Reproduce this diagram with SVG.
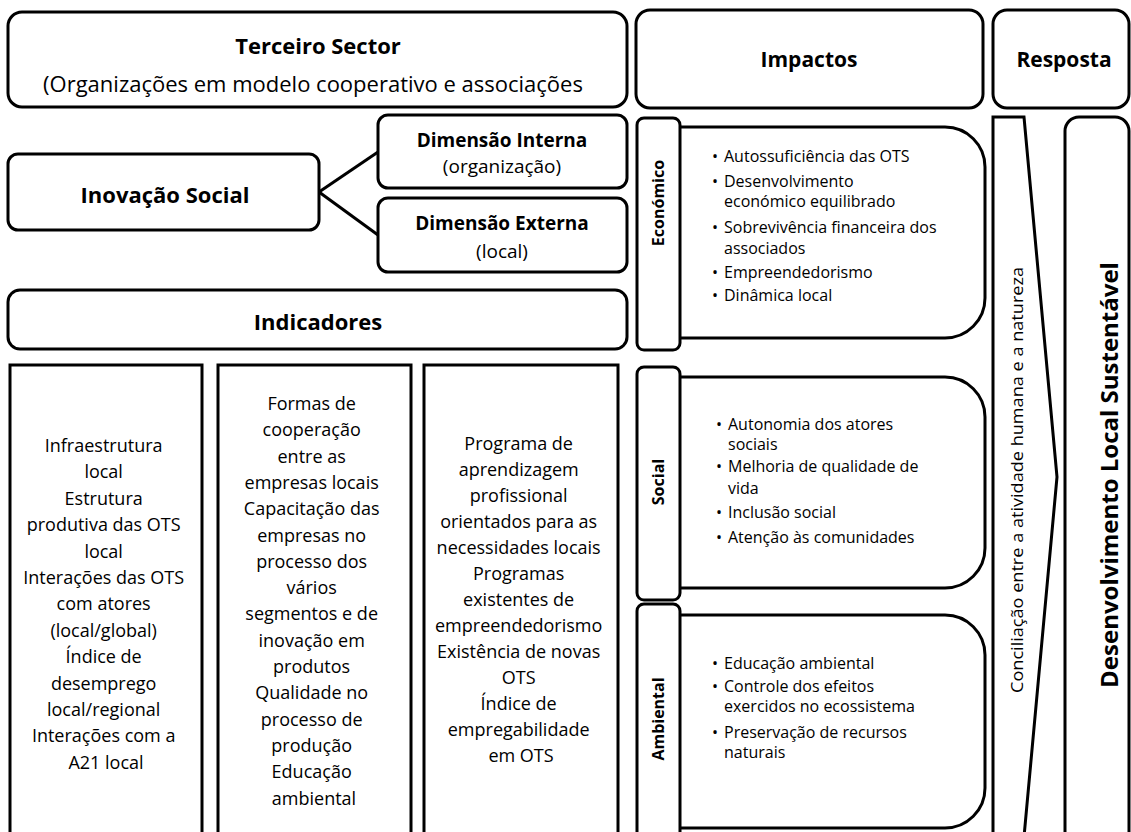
<svg xmlns="http://www.w3.org/2000/svg" width="1131" height="832" viewBox="0 0 1131 832">
  <style>
    .box { fill: #fff; stroke: #000; stroke-width: 3; }
    .col { fill: #fff; stroke: #000; stroke-width: 3; }
    .line { fill: none; stroke: #000; stroke-width: 3; }
    text { font-family: "Open Sans", "DejaVu Sans", sans-serif; fill: #000; }
    .h1 { font-size: 22px; font-weight: bold; text-anchor: middle; }
    .h2 { font-size: 21px; font-weight: bold; text-anchor: middle; }
    .sub { font-size: 22px; text-anchor: middle; }
    .dim { font-size: 19px; font-weight: bold; text-anchor: middle; }
    .dimsub { font-size: 19px; text-anchor: middle; }
    .ind { font-size: 18px; text-anchor: middle; }
    .lab { font-size: 16px; font-weight: bold; text-anchor: middle; }
    .bul { font-size: 16px; }
    .conc { font-size: 17px; text-anchor: middle; }
    .dls { font-size: 24px; font-weight: bold; text-anchor: middle; }
  </style>

  <rect width="1131" height="832" fill="#fff"/>

  <!-- header row -->
  <g id="terceiro-sector">
    <rect class="box" x="8" y="12" width="619" height="95" rx="14"/>
    <text class="h1" x="318" y="54">Terceiro Sector</text>
    <text class="sub" x="313" y="92">(Organizações em modelo cooperativo e associações</text>
  </g>
  <g id="impactos">
    <rect class="box" x="636" y="10" width="347" height="98" rx="14"/>
    <text class="h2" x="809" y="67">Impactos</text>
  </g>
  <g id="resposta">
    <rect class="box" x="993" y="10" width="136" height="98" rx="14"/>
    <text class="h2" x="1064" y="67">Resposta</text>
  </g>

  <!-- social innovation and its two dimensions -->
  <g id="connectors">
    <line class="line" x1="319" y1="192" x2="378" y2="152"/>
    <line class="line" x1="319" y1="192" x2="378" y2="235"/>
  </g>
  <g id="inovacao-social">
    <rect class="box" x="8" y="154" width="311" height="76" rx="10"/>
    <text class="h1" x="165" y="203">Inovação Social</text>
  </g>
  <g id="dimensao-interna">
    <rect class="box" x="378" y="115" width="249" height="73" rx="10"/>
    <text class="dim" x="502" y="147">Dimensão Interna</text>
    <text class="dimsub" x="502" y="173">(organização)</text>
  </g>
  <g id="dimensao-externa">
    <rect class="box" x="378" y="198" width="249" height="74" rx="10"/>
    <text class="dim" x="502" y="230">Dimensão Externa</text>
    <text class="dimsub" x="502" y="258">(local)</text>
  </g>

  <g id="indicadores">
    <rect class="box" x="8" y="290" width="619" height="59" rx="12"/>
    <text class="h1" x="318" y="330">Indicadores</text>
  </g>

  <!-- indicator columns -->
  <g id="indicadores-col1">
    <rect class="col" x="10" y="365" width="192" height="490"/>
    <text class="ind" x="106">
      <tspan x="106" y="452">Infraestrutura</tspan>
      <tspan x="106" y="478.4">local</tspan>
      <tspan x="106" y="504.8">Estrutura</tspan>
      <tspan x="106" y="531.2">produtiva das OTS</tspan>
      <tspan x="106" y="557.6">local</tspan>
      <tspan x="106" y="584">Interações das OTS</tspan>
      <tspan x="106" y="610.4">com atores</tspan>
      <tspan x="106" y="636.8">(local/global)</tspan>
      <tspan x="106" y="663.2">Índice de</tspan>
      <tspan x="106" y="689.6">desemprego</tspan>
      <tspan x="106" y="716">local/regional</tspan>
      <tspan x="106" y="742.4">Interações com a</tspan>
      <tspan x="106" y="768.8">A21 local</tspan>
    </text>
  </g>
  <g id="indicadores-col2">
    <rect class="col" x="218" y="365" width="193" height="490"/>
    <text class="ind" x="314">
      <tspan x="314" y="410">Formas de</tspan>
      <tspan x="314" y="436.3">cooperação</tspan>
      <tspan x="314" y="462.6">entre as</tspan>
      <tspan x="314" y="488.9">empresas locais</tspan>
      <tspan x="314" y="515.2">Capacitação das</tspan>
      <tspan x="314" y="541.5">empresas no</tspan>
      <tspan x="314" y="567.8">processo dos</tspan>
      <tspan x="314" y="594.1">vários</tspan>
      <tspan x="314" y="620.4">segmentos e de</tspan>
      <tspan x="314" y="646.7">inovação em</tspan>
      <tspan x="314" y="673">produtos</tspan>
      <tspan x="314" y="699.3">Qualidade no</tspan>
      <tspan x="314" y="725.6">processo de</tspan>
      <tspan x="314" y="751.9">produção</tspan>
      <tspan x="314" y="778.2">Educação</tspan>
      <tspan x="314" y="804.5">ambiental</tspan>
    </text>
  </g>
  <g id="indicadores-col3">
    <rect class="col" x="424" y="365" width="194" height="490"/>
    <text class="ind" x="521">
      <tspan x="521" y="450">Programa de</tspan>
      <tspan x="521" y="476">aprendizagem</tspan>
      <tspan x="521" y="502">profissional</tspan>
      <tspan x="521" y="528">orientados para as</tspan>
      <tspan x="521" y="554">necessidades locais</tspan>
      <tspan x="521" y="580">Programas</tspan>
      <tspan x="521" y="606">existentes de</tspan>
      <tspan x="521" y="632">empreendedorismo</tspan>
      <tspan x="521" y="658">Existência de novas</tspan>
      <tspan x="521" y="684">OTS</tspan>
      <tspan x="521" y="710">Índice de</tspan>
      <tspan x="521" y="736">empregabilidade</tspan>
      <tspan x="521" y="762">em OTS</tspan>
    </text>
  </g>

  <!-- impact panels -->
  <g id="economico">
    <path class="box" d="M678 127 H945 A40 40 0 0 1 985 167 V298 A40 40 0 0 1 945 338 H678 Z"/>
    <rect class="box" x="637" y="118" width="43" height="232" rx="7"/>
    <text class="lab" transform="translate(664 203) rotate(-90)">Económico</text>
    <text class="bul">
      <tspan x="712" y="162">•</tspan><tspan x="724" y="162">Autossuficiência das OTS</tspan>
      <tspan x="712" y="187">•</tspan><tspan x="724" y="187">Desenvolvimento</tspan>
      <tspan x="724" y="207">económico equilibrado</tspan>
      <tspan x="712" y="233">•</tspan><tspan x="724" y="233">Sobrevivência financeira dos</tspan>
      <tspan x="724" y="254">associados</tspan>
      <tspan x="712" y="278">•</tspan><tspan x="724" y="278">Empreendedorismo</tspan>
      <tspan x="712" y="301">•</tspan><tspan x="724" y="301">Dinâmica local</tspan>
    </text>
  </g>
  <g id="social">
    <path class="box" d="M678 377 H945 A40 40 0 0 1 985 417 V548 A40 40 0 0 1 945 588 H678 Z"/>
    <rect class="box" x="637" y="367" width="43" height="233" rx="7"/>
    <text class="lab" transform="translate(664 482) rotate(-90)">Social</text>
    <text class="bul">
      <tspan x="716" y="430">•</tspan><tspan x="728" y="430">Autonomia dos atores</tspan>
      <tspan x="728" y="450">sociais</tspan>
      <tspan x="716" y="472">•</tspan><tspan x="728" y="472">Melhoria de qualidade de</tspan>
      <tspan x="728" y="494">vida</tspan>
      <tspan x="716" y="518">•</tspan><tspan x="728" y="518">Inclusão social</tspan>
      <tspan x="716" y="543">•</tspan><tspan x="728" y="543">Atenção às comunidades</tspan>
    </text>
  </g>
  <g id="ambiental">
    <path class="box" d="M678 615 H945 A40 40 0 0 1 985 655 V788 A40 40 0 0 1 945 828 H678 Z"/>
    <rect class="box" x="637" y="604" width="43" height="245" rx="7"/>
    <text class="lab" transform="translate(664 719) rotate(-90)">Ambiental</text>
    <text class="bul">
      <tspan x="712" y="669">•</tspan><tspan x="724" y="669">Educação ambiental</tspan>
      <tspan x="712" y="692">•</tspan><tspan x="724" y="692">Controle dos efeitos</tspan>
      <tspan x="724" y="712">exercidos no ecossistema</tspan>
      <tspan x="712" y="738">•</tspan><tspan x="724" y="738">Preservação de recursos</tspan>
      <tspan x="724" y="758">naturais</tspan>
    </text>
  </g>

  <!-- response column -->
  <g id="conciliacao">
    <polygon class="box" points="993,117 1024,117 1057,477 1024,837 993,837" stroke-linejoin="miter"/>
    <text class="conc" transform="translate(1023 480) rotate(-90)" textLength="426" lengthAdjust="spacingAndGlyphs">Conciliação entre a atividade humana e a natureza</text>
  </g>
  <g id="desenvolvimento">
    <rect class="box" x="1065" y="117" width="64" height="740" rx="14"/>
    <text class="dls" transform="translate(1118 475) rotate(-90)">Desenvolvimento Local Sustentável</text>
  </g>
</svg>
